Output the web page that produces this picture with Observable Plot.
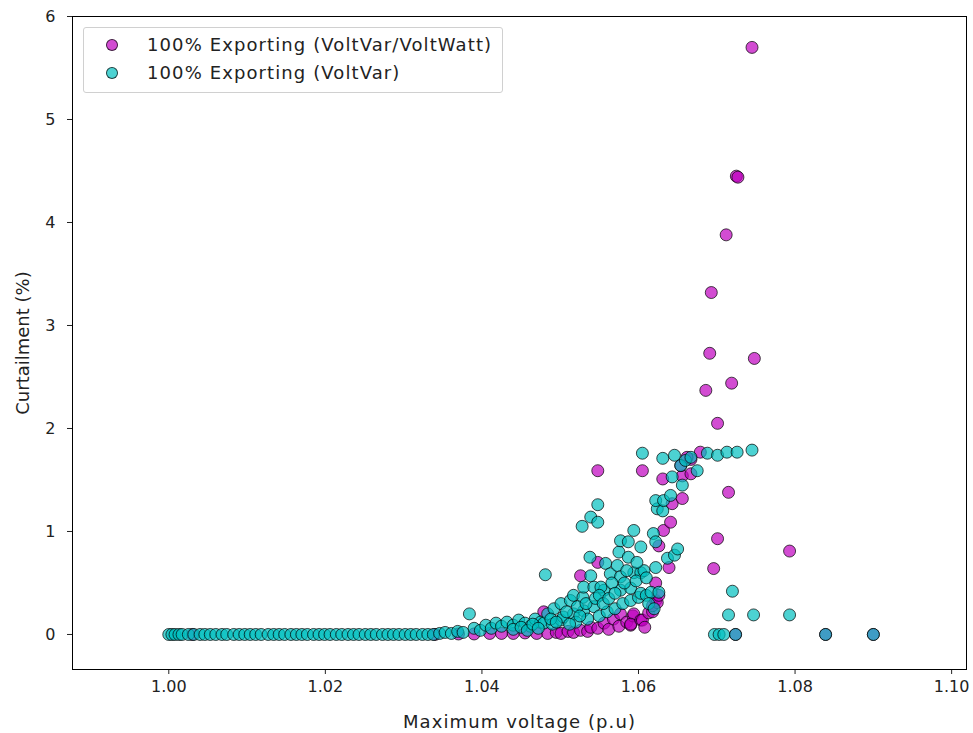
<!DOCTYPE html>
<html>
<head>
<meta charset="utf-8">
<script src="https://cdn.jsdelivr.net/npm/d3@7"></script>
<script src="https://cdn.jsdelivr.net/npm/@observablehq/plot@0.6"></script>
<style>
  html, body { margin: 0; padding: 0; background: #fff; }
  #wrap { position: relative; width: 973px; height: 733px; font-family: "DejaVu Sans", sans-serif; }
  #legend { position: absolute; left: 83px; top: 27px; width: 420px; height: 66px; border: 1px solid #d0d0d0; border-radius: 3px; background: rgba(255,255,255,0.85); box-sizing: border-box; }
  .item { position: absolute; left: 0; height: 22px; font-size: 18px; letter-spacing: 1.1px; color: #222; white-space: nowrap; }
  .sw { position: absolute; left: 22px; top: 5px; width: 12px; height: 12px; border-radius: 50%; box-sizing: border-box; border: 1px solid rgba(0,0,0,0.7); }
  .lab { position: absolute; left: 63px; top: 0px; line-height: 22px; }
</style>
</head>
<body>
<div id="wrap">
  <div id="chart"></div>
  <div id="legend">
    <div class="item" style="top:6px"><span class="sw" style="background:rgba(191,0,191,0.7)"></span><span class="lab">100% Exporting (VoltVar/VoltWatt)</span></div>
    <div class="item" style="top:34px"><span class="sw" style="background:rgba(0,191,191,0.7)"></span><span class="lab">100% Exporting (VoltVar)</span></div>
  </div>
</div>
<script>
const seriesNames = ["100% Exporting (VoltVar/VoltWatt)", "100% Exporting (VoltVar)"];
const xTicks = [1.00, 1.02, 1.04, 1.06, 1.08, 1.10];
const yTicks = [0, 1, 2, 3, 4, 5, 6];

// 100% Exporting (VoltVar/VoltWatt) : [max voltage p.u., curtailment %]
const voltVarVoltWatt = [
  [1.0030,0],[1.0340,0],[1.0370,0.005],[1.0390,0.005],[1.0410,0.01],[1.0425,0.01],[1.0440,0.01],
  [1.0455,0.015],[1.0470,0.01],[1.0484,0.01],[1.0479,0.22],[1.0495,0.02],[1.0501,0.01],[1.0510,0.03],
  [1.0517,0.02],[1.0526,0.04],[1.0535,0.03],[1.0539,0.07],[1.0548,0.06],[1.0556,0.11],[1.0562,0.05],
  [1.0568,0.15],[1.0575,0.08],[1.0577,0.2],[1.0585,0.12],[1.0590,0.09],[1.0593,0.18],[1.0594,0.2],
  [1.0590,0.10],[1.0603,0.14],[1.0605,0.14],[1.0608,0.07],[1.0613,0.21],[1.0618,0.22],[1.0618,0.28],
  [1.0622,0.33],[1.0624,0.31],[1.0626,0.38],[1.0622,0.5],[1.0639,0.65],[1.0626,0.86],[1.0632,1.01],
  [1.0641,1.09],[1.0643,1.27],[1.0656,1.32],[1.0631,1.51],[1.0656,1.54],[1.0667,1.56],[1.0654,1.64],
  [1.0667,1.70],[1.0662,1.72],[1.0679,1.77],[1.0605,1.59],[1.0548,1.59],[1.0548,0.70],[1.0526,0.57],
  [1.0701,2.05],[1.0686,2.37],[1.0719,2.44],[1.0748,2.68],[1.0691,2.73],[1.0693,3.32],[1.0712,3.88],
  [1.0725,4.45],[1.0727,4.44],[1.0745,5.70],[1.0715,1.38],[1.0701,0.93],[1.0696,0.64],[1.0793,0.81],
  [1.0724,0],[1.0839,0],[1.0900,0]
];

// 100% Exporting (VoltVar)
const voltVar = [
  [1.0000,0],[1.0004,0],[1.0008,0],[1.0013,0],[1.0017,0],[1.0025,0],[1.0032,0],[1.0040,0],[1.0046,0],
  [1.0053,0],[1.0060,0],[1.0068,0],[1.0074,0],[1.0083,0],[1.0090,0],[1.0097,0],[1.0104,0],[1.0111,0],
  [1.0118,0],[1.0127,0],[1.0134,0],[1.0141,0],[1.0148,0],[1.0156,0],[1.0163,0],[1.0170,0],[1.0177,0],
  [1.0185,0],[1.0192,0],[1.0199,0],[1.0206,0],[1.0214,0],[1.0221,0],[1.0229,0],[1.0236,0],[1.0243,0],
  [1.0251,0],[1.0258,0],[1.0265,0],[1.0273,0],[1.0280,0],[1.0287,0],[1.0294,0],[1.0302,0],[1.0309,0],
  [1.0316,0],[1.0324,0],[1.0331,0],[1.0338,0],[1.0346,0.01],[1.0353,0.02],[1.0361,0.01],[1.0369,0.03],
  [1.0376,0.02],[1.0384,0.20],[1.0390,0.06],[1.0398,0.04],[1.0405,0.09],[1.0412,0.06],[1.0418,0.11],
  [1.0425,0.08],[1.0432,0.12],[1.0440,0.09],[1.0447,0.14],[1.0455,0.11],[1.0462,0.08],[1.0468,0.15],
  [1.0475,0.12],[1.0479,0.11],[1.0481,0.58],[1.0484,0.20],[1.0490,0.10],[1.0492,0.25],[1.0501,0.14],
  [1.0501,0.30],[1.0504,0.17],[1.0513,0.33],[1.0517,0.20],[1.0517,0.38],[1.0520,0.12],[1.0529,0.36],
  [1.0530,0.23],[1.0530,0.46],[1.0535,0.15],[1.0543,0.27],[1.0543,0.46],[1.0539,0.57],[1.0538,0.75],
  [1.0528,1.05],[1.0539,1.14],[1.0548,1.09],[1.0548,1.26],[1.0550,0.18],[1.0556,0.43],[1.0552,0.46],
  [1.0558,0.69],[1.0560,0.22],[1.0564,0.59],[1.0570,0.25],[1.0573,0.67],[1.0575,0.80],[1.0577,0.43],
  [1.0577,0.56],[1.0577,0.91],[1.0580,0.30],[1.0587,0.75],[1.0587,0.90],[1.0590,0.33],[1.0590,0.45],
  [1.0594,0.60],[1.0594,1.01],[1.0600,0.36],[1.0603,0.40],[1.0603,0.60],[1.0603,0.85],[1.0607,0.62],
  [1.0610,0.38],[1.0616,0.41],[1.0626,0.41],[1.0622,0.65],[1.0637,0.74],[1.0619,0.98],[1.0622,0.90],
  [1.0646,0.77],[1.0650,0.83],[1.0624,1.22],[1.0631,1.20],[1.0622,1.30],[1.0632,1.30],[1.0641,1.35],
  [1.0656,1.45],[1.0643,1.53],[1.0675,1.59],[1.0654,1.64],[1.0605,1.76],[1.0631,1.71],[1.0646,1.74],
  [1.0660,1.69],[1.0667,1.72],[1.0688,1.76],[1.0701,1.74],[1.0713,1.77],[1.0726,1.77],[1.0745,1.79],
  [1.0720,0.42],[1.0715,0.19],[1.0747,0.19],[1.0793,0.19],
  [1.0440,0.05],[1.0450,0.07],[1.0458,0.04],[1.0465,0.10],[1.0472,0.06],[1.0488,0.15],[1.0495,0.12],
  [1.0508,0.22],[1.0512,0.10],[1.0522,0.27],[1.0525,0.18],[1.0533,0.30],[1.0545,0.35],[1.0550,0.38],
  [1.0555,0.30],[1.0562,0.35],[1.0566,0.50],[1.0570,0.40],[1.0582,0.50],[1.0585,0.62],[1.0597,0.52],
  [1.0598,0.70],[1.0610,0.55],[1.0613,0.30],[1.0620,0.25],
  [1.0697,0],[1.0703,0],[1.0709,0],[1.0724,0],[1.0839,0],[1.0900,0]
];

const rows = [
  ...voltVarVoltWatt.map(([x, y]) => ({x, y, s: seriesNames[0]})),
  ...voltVar.map(([x, y]) => ({x, y, s: seriesNames[1]}))
];

const chart = Plot.plot({
  width: 973,
  height: 733,
  marginLeft: 72,
  marginRight: 7,
  marginTop: 16,
  marginBottom: 64,
  style: {fontFamily: "DejaVu Sans, sans-serif", fontSize: "16px", color: "#222", background: "#fff"},
  x: {domain: [0.9877, 1.1019], ticks: xTicks, tickFormat: d3.format(".2f"), label: "Maximum voltage (p.u)", labelAnchor: "center", labelArrow: "none", tickSize: 5, tickPadding: 6, labelOffset: 58},
  y: {domain: [-0.34, 6], ticks: yTicks, tickFormat: d3.format("d"), label: "Curtailment (%)", labelAnchor: "center", labelArrow: "none", tickSize: 5, tickPadding: 12, labelOffset: 56},
  color: {domain: seriesNames, range: ["#bf00bf", "#00bfbf"]},
  marks: [
    Plot.dot(rows, {x: "x", y: "y", fill: "s", fillOpacity: 0.7, stroke: "#000", strokeOpacity: 0.7, strokeWidth: 1, r: 6}),
    Plot.frame({stroke: "#000", strokeWidth: 1})
  ]
});
d3.select(chart).selectAll('[aria-label="x-axis label"] text').style("font-size", "18px").style("letter-spacing", "1.1px");
d3.select(chart).selectAll('[aria-label="y-axis label"] text').style("font-size", "18px");
document.getElementById("chart").appendChild(chart);
</script>
</body>
</html>
